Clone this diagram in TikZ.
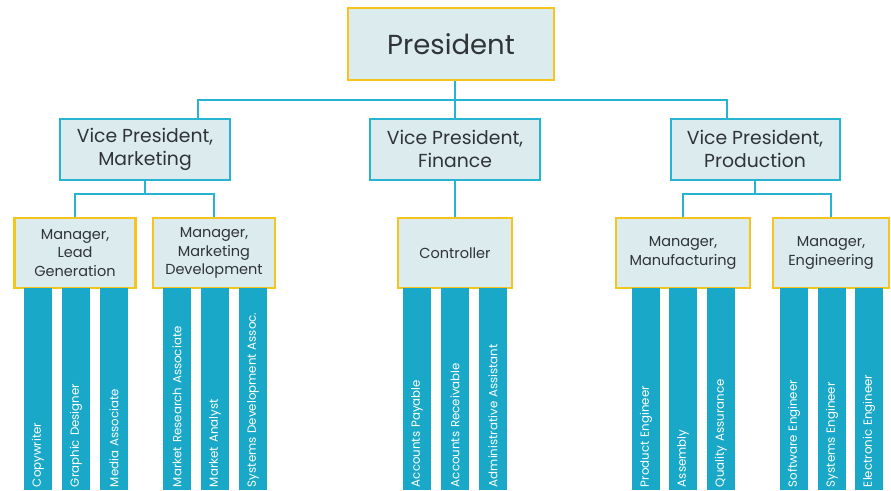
\documentclass[tikz,border=0pt]{standalone}
\usepackage{fontspec}
\setmainfont{Poppins}
\usepackage{xcolor}
\usepackage{tikz}
\usetikzlibrary{calc,positioning}

\definecolor{boxfill}{HTML}{DCEBEE}
\definecolor{goldline}{HTML}{F5C51E}
\definecolor{tealline}{HTML}{27B4D0}
\definecolor{barfill}{HTML}{1AA8C8}
\definecolor{textgray}{HTML}{2F3436}

\begin{document}
\begin{tikzpicture}[x=1pt,y=-1pt,
  box/.style={draw,fill=boxfill,text=textgray,align=center,inner sep=2pt},
  topbox/.style={box,draw=goldline,line width=2.6pt,font=\fontsize{27.5}{30}\selectfont},
  vpbox/.style={box,draw=tealline,line width=2pt,minimum height=61pt,font=\fontsize{18.8}{23}\selectfont},
  mgrbox/.style={box,draw=goldline,line width=2.6pt,minimum height=70pt,font=\fontsize{14.5}{18.5}\selectfont},
  bar/.style={fill=barfill,text=white,rotate=90,minimum width=202pt,minimum height=28pt,
    text width=196pt,align=left,inner xsep=3pt,font=\fontsize{11.8}{13}\selectfont},
  link/.style={draw=tealline,line width=2.6pt}]
  \useasboundingbox (0,0) rectangle (891,490);
  % 顶层
  \node[topbox,minimum width=206pt,minimum height=72pt] (pres) at (451,44) {President};
  % 副总裁
  \node[vpbox,minimum width=170pt] (vpm) at (145,149) {Vice President,\\Marketing};
  \node[vpbox,minimum width=170pt] (vpf) at (455,149) {Vice President,\\Finance};
  \node[vpbox,minimum width=169pt] (vpp) at (755,149) {Vice President,\\Production};
  % 经理
  \node[mgrbox,minimum width=121pt] (mlg) at (75,253) {Manager,\\Lead\\Generation};
  \node[mgrbox,minimum width=122pt] (mmd) at (214,253) {Manager,\\Marketing\\Development};
  \node[mgrbox,minimum width=114pt] (ctl) at (455,253) {Controller};
  \node[mgrbox,minimum width=134pt] (mmf) at (683,253) {Manager,\\Manufacturing};
  \node[mgrbox,minimum width=116pt] (meng) at (831,253) {Manager,\\Engineering};
  % 连线
  \coordinate (busL) at (198,100);
  \coordinate (busR) at (727,100);
  \coordinate (bm) at (145,194);
  \coordinate (bp) at (755,194);
  \draw[link] (vpm.north -| busL) -- (busL) -- (busR) -- (vpp.north -| busR);
  \draw[link] (vpf.north) -- (vpf.north |- pres.south);
  \draw[link] (vpm.south) -- (bm);
  \draw[link] (mlg.north) |- (bm) -| (mmd.north);
  \draw[link] (ctl.north) -- (vpf.south);
  \draw[link] (vpp.south) -- (bp);
  \draw[link] (mmf.north) |- (bp) -| (meng.north);
  % 职位条
  \foreach \x/\name/\txt in {38/cw/Copywriter,76/gd/Graphic Designer,114/ma/Media Associate,
      177/mra/Market Research Associate,215/man/Market Analyst,253/sda/Systems Development Assoc.,
      417/ap/Accounts Payable,455/ar/Accounts Receivable,493/aa/Administrative Assistant,
      646/pe/Product Engineer,683/asm/Assembly,721/qa/Quality Assurance,
      794/swe/Software Engineer,832/sye/Systems Engineer,869/ele/Electronic Engineer}
    \node[bar] (\name) at (\x,389) {\txt};
\end{tikzpicture}
\end{document}
